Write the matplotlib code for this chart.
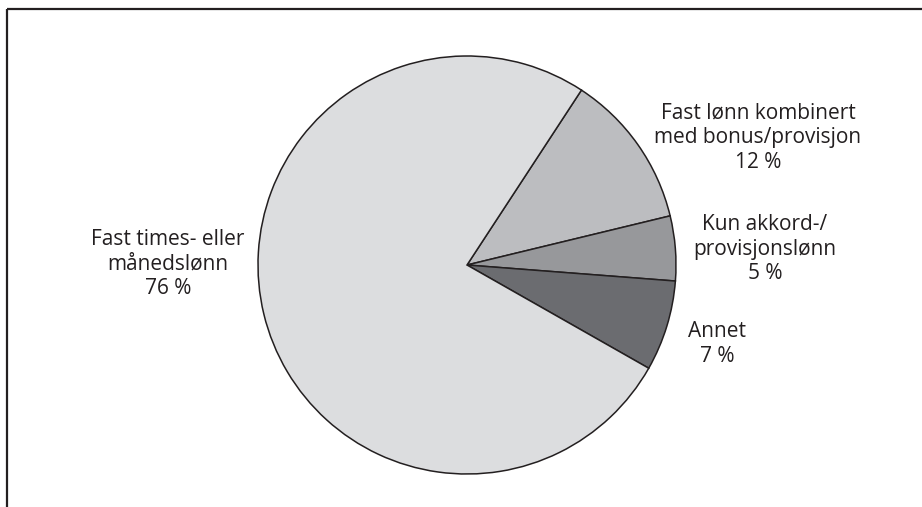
import matplotlib
matplotlib.use("Agg")
import matplotlib.pyplot as plt
from matplotlib.lines import Line2D

# Wage form shares (percent), drawn clockwise from the upper right
categories = [
    "Fast lønn kombinert\nmed bonus/provisjon",
    "Kun akkord-/\nprovisjonslønn",
    "Annet",
    "Fast times- eller\nmånedslønn",
]
shares = [12, 5, 7, 76]
colors = ["#bcbdc0", "#97989b", "#6b6c70", "#dcdddf"]

# Label anchor points (pixel layout, y measured from the top)
label_pos = [(758, 138), (765, 249), (717, 344), (168, 264)]

W, H = 922, 507
fig = plt.figure(figsize=(W / 100, H / 100), dpi=100)
ax = fig.add_axes([0, 0, 1, 1])

ink = "#231f20"
ax.pie(
    shares,
    colors=colors,
    startangle=56.8,
    counterclock=False,
    center=(467, H - 265),
    radius=209,
    wedgeprops=dict(edgecolor=ink, linewidth=1.1),
    frame=True,
)
ax.set_xlim(0, W)
ax.set_ylim(0, H)
ax.set_aspect("equal")
ax.axis("off")

for name, val, (x, y) in zip(categories, shares, label_pos):
    ax.text(x, H - y, f"{name}\n{val} %", ha="center", va="center",
            multialignment="center", fontsize=15, family="Open Sans",
            color=ink, linespacing=1.22)

# Panel frame (open to the right and bottom)
ax.add_line(Line2D([7, W], [H - 9, H - 9], color=ink, lw=1.6, solid_capstyle="butt"))
ax.add_line(Line2D([7, 7], [H - 9, 0], color=ink, lw=1.6, solid_capstyle="butt"))

fig.savefig("out.png", dpi=100)
